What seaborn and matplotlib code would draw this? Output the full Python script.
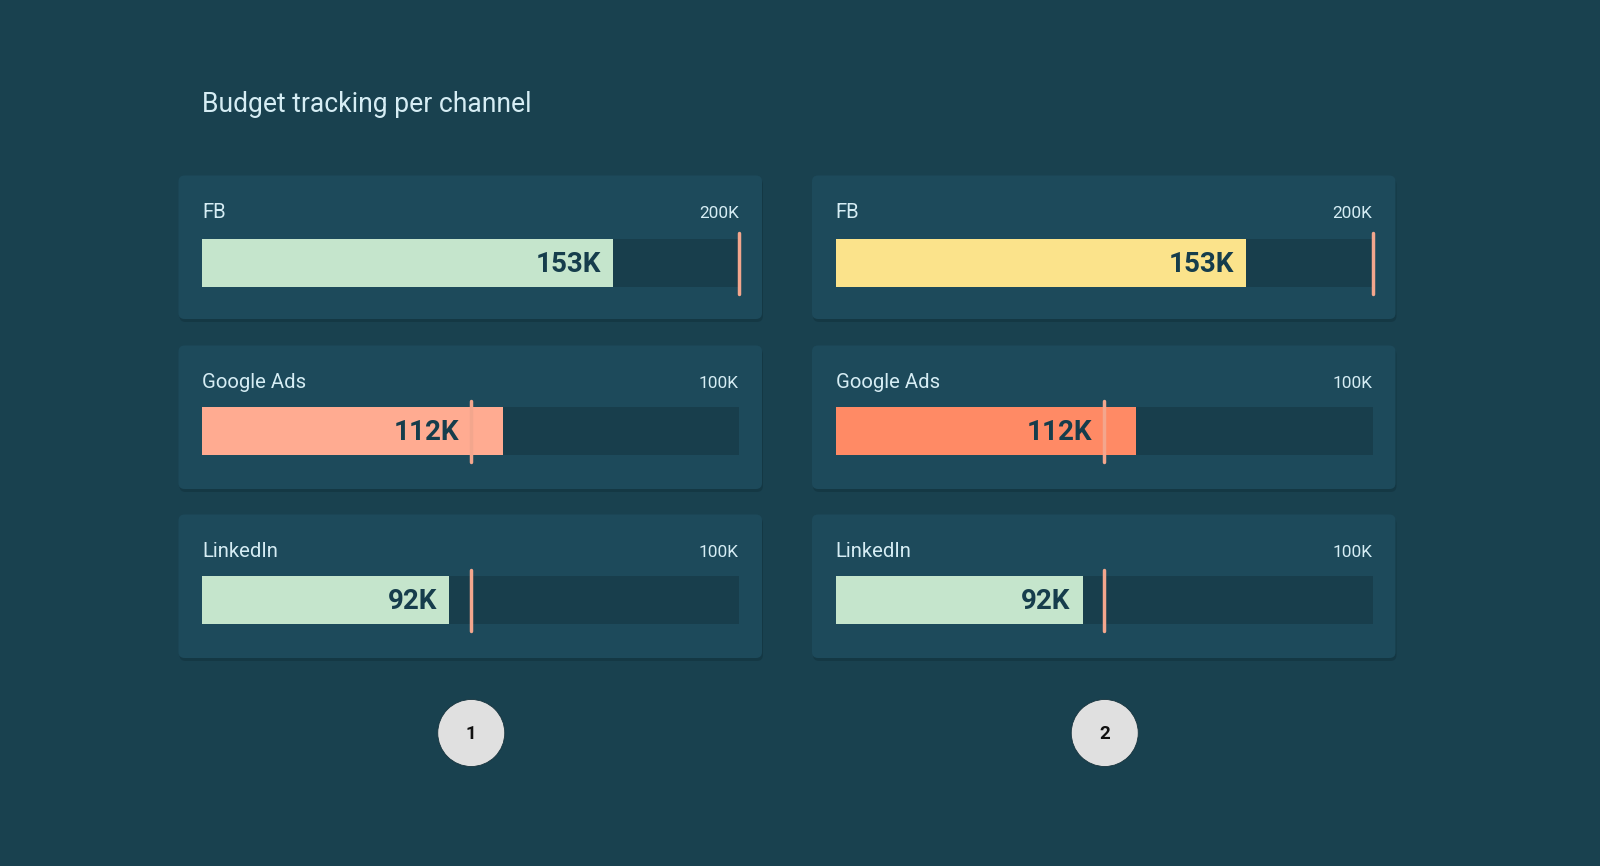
import numpy as np
import pandas as pd
import matplotlib
matplotlib.use("Agg")
import matplotlib.pyplot as plt
import seaborn as sns
from matplotlib.patches import FancyBboxPatch, Circle

# data
channels = ["FB", "Google Ads", "LinkedIn"]
spent = [153, 112, 92]          # in K
budget = [200, 100, 100]        # in K (target)
axis_max = 200
panel_names = ["1", "2"]
panel_colors = [
    ["#c5e5cc", "#ffab91", "#c5e5cc"],
    ["#fbe38b", "#ff8a65", "#c5e5cc"],
]
title = "Budget tracking per channel"

# colours
BG = "#19414f"
CARD = "#1d4a5b"
TRACK = "#183e4c"
TARGET = "#f3a68d"
VALUE_TXT = "#163d4c"
LABEL_TXT = "#d6edf4"

sns.set_theme(style="white")
plt.rcParams["font.family"] = ["Roboto", "DejaVu Sans"]

W, H = 1600, 866
fig = plt.figure(figsize=(16, 8.66), dpi=100, facecolor=BG)

# background axes in pixel coordinates
bg = fig.add_axes([0, 0, 1, 1])
bg.set_xlim(0, W)
bg.set_ylim(H, 0)
bg.axis("off")
bg.set_facecolor(BG)

bg.text(202, 105, title, fontsize=19.1, color=LABEL_TXT, va="center", ha="left")

card_lefts = [178.5, 812]
card_w = 583.5
card_tops = [175.5, 345.5, 514.5]
bar_offsets = [57, 55, 55]
card_h = 143.5
track_l_off = 23.5
track_w = 537

def fig_rect(x, y, w, h):
    return [x / W, 1 - (y + h) / H, w / W, h / H]

for p, cl in enumerate(card_lefts):
    for i, ch in enumerate(channels):
        top = card_tops[i]
        # shadow + card
        bg.add_patch(FancyBboxPatch((cl + 1, top + 3), card_w, card_h,
                                    boxstyle="round,pad=0,rounding_size=6",
                                    fc="#12323e", ec="none", alpha=0.6, zorder=1))
        bg.add_patch(FancyBboxPatch((cl, top), card_w, card_h,
                                    boxstyle="round,pad=0,rounding_size=6",
                                    fc=CARD, ec="none", zorder=2))
        tx = cl + track_l_off
        bg.text(tx, top + 37, ch, fontsize=14.6, color=LABEL_TXT,
                va="center", ha="left", zorder=3)
        bg.text(tx + track_w, top + 38, f"{budget[i]}K", fontsize=12.4,
                color=LABEL_TXT, va="center", ha="right", zorder=3)

        # bar axes: spans the target line height
        ax_top = top + bar_offsets[i]
        ax_h = 61.5
        ax = fig.add_axes(fig_rect(tx, ax_top, track_w, ax_h))
        df = pd.DataFrame({"channel": [ch], "spent": [spent[i]], "max": [axis_max]})
        bw = 48 / ax_h
        sns.barplot(data=df, x="max", y="channel", orient="h", ax=ax,
                    color=TRACK, saturation=1, width=bw, linewidth=0)
        sns.barplot(data=df, x="spent", y="channel", orient="h", ax=ax,
                    color=panel_colors[p][i], saturation=1, width=bw, linewidth=0)
        ax.axvline(budget[i], color=TARGET, lw=2.5, clip_on=False, zorder=5)
        ax.set_xlim(0, axis_max)
        ax.set_ylim(0.5, -0.5)
        ax.axis("off")
        ax.patch.set_alpha(0)

        lab_x = min(spent[i], budget[i])
        ax.annotate(f"{spent[i]}K", xy=(lab_x, 0), xytext=(-8.5, -1),
                    textcoords="offset points", ha="right", va="center",
                    fontsize=20, fontweight="bold", color=VALUE_TXT, zorder=6)

    # panel number circle
    cx = cl + card_w / 2 + 1
    bg.add_patch(Circle((cx, 733), 33.5, fc="#e0e0e0", ec="#17333d", lw=0.6, zorder=2))
    bg.text(cx, 734, panel_names[p], fontsize=13.5, fontweight="bold",
            color="#111111", ha="center", va="center", zorder=3)

fig.savefig("out.png", dpi=100, facecolor=BG)
